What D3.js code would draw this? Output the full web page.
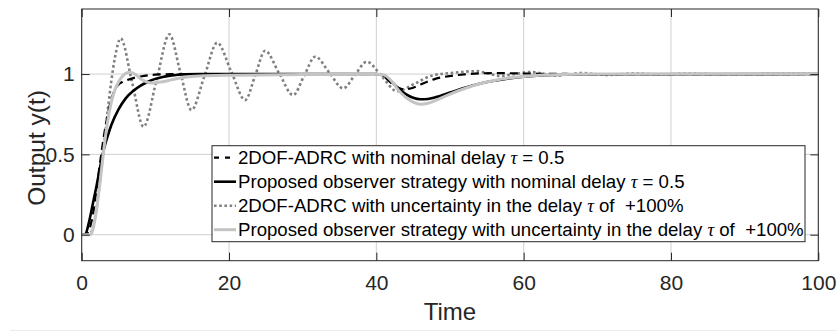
<!DOCTYPE html>
<html><head><meta charset="utf-8">
<script src="https://cdn.jsdelivr.net/npm/d3@7"></script>
<style>
html,body{margin:0;padding:0;background:#fff;}
svg{display:block;font-family:"Liberation Sans",Arial,Helvetica,sans-serif;}
</style></head>
<body><svg id="c" width="837" height="331"></svg>
<script>
// ---- data ----
const xTicks = [0, 20, 40, 60, 80, 100];
const yTicks = [0, 0.5, 1];
const yTickLabels = ["0", "0.5", "1"];
const xLabel = "Time";
const yLabel = "Output y(t)";

// 2DOF-ADRC, nominal delay (black dashed)
const tAdrcNom = [0, 0.5, 1, 1.5, 2, 2.5, 3, 3.5, 4, 4.5, 5, 5.5, 6, 7, 8, 9, 10, 12, 14, 40, 41, 42, 43, 43.8, 45, 46, 48, 50, 52, 54, 56, 58, 62, 70, 100];
const yAdrcNom = [0, 0, 0.03, 0.12, 0.28, 0.45, 0.61, 0.74, 0.84, 0.9, 0.935, 0.95, 0.96, 0.975, 0.985, 0.992, 0.996, 0.999, 1, 1, 0.985, 0.945, 0.915, 0.905, 0.915, 0.935, 0.97, 0.988, 0.998, 1.004, 1.006, 1.005, 1.002, 1, 1];

// Proposed observer, nominal delay (black solid)
const tObsNom = [0, 0.5, 1, 1.5, 2, 2.5, 3, 3.5, 4, 5, 6, 7, 8, 9, 10, 11, 12, 13, 14, 16, 40, 41, 42, 43, 44, 45, 46, 47, 48, 50, 52, 54, 56, 58, 60, 64, 70, 100];
const yObsNom = [0, 0.005, 0.08, 0.19, 0.3, 0.42, 0.53, 0.61, 0.68, 0.78, 0.85, 0.895, 0.928, 0.952, 0.97, 0.982, 0.99, 0.996, 0.999, 1, 1, 0.99, 0.955, 0.91, 0.875, 0.852, 0.843, 0.845, 0.855, 0.885, 0.915, 0.94, 0.958, 0.972, 0.983, 0.994, 0.999, 1];

// 2DOF-ADRC, +100% delay uncertainty (gray dotted)
const tAdrcUnc = [0, 1, 1.5, 2, 2.5, 3, 3.5, 4, 4.5, 5.3, 6.85, 8.4, 10.15, 11.9, 13.4, 14.9, 16.65, 18.4, 20.3, 22.2, 23.55, 24.9, 26.8, 28.7, 30.2, 31.7, 33.6, 35.5, 37.1, 38.7, 40.75, 42.8, 45.2, 47.5, 50.5, 53.6, 55.2, 56.8, 58.8, 60.8, 62.7, 64.6, 66.2, 67.8, 69.6, 71.4, 73.2, 75, 78.6, 82, 86, 100];
const yAdrcUnc = [0, 0, 0.04, 0.16, 0.34, 0.55, 0.76, 0.95, 1.1, 1.222, 0.947, 0.672, 0.96, 1.247, 1.01, 0.776, 0.985, 1.195, 1.015, 0.838, 0.99, 1.145, 1.005, 0.869, 0.99, 1.108, 1.01, 0.911, 0.995, 1.077, 0.985, 0.893, 0.94, 0.99, 1.008, 1.018, 1.003, 0.988, 1.0, 1.013, 1.002, 0.991, 0.999, 1.007, 1.0, 0.994, 0.999, 1.004, 0.997, 1.002, 0.999, 1];

// Proposed observer, +100% delay uncertainty (light gray solid)
const tObsUnc = [0, 1.2, 1.5, 2, 2.5, 3, 3.5, 4, 4.5, 5, 5.5, 6, 6.5, 7, 7.5, 8, 8.5, 9, 9.5, 10, 11, 12, 13, 14, 16, 20, 30, 40, 41, 42, 43, 44, 45, 46, 47, 48, 50, 52, 54, 56, 58, 60, 64, 70, 100];
const yObsUnc = [0, 0, 0.03, 0.15, 0.33, 0.53, 0.7, 0.82, 0.9, 0.95, 0.985, 1.005, 1.012, 1.005, 0.99, 0.97, 0.957, 0.948, 0.945, 0.946, 0.952, 0.962, 0.972, 0.98, 0.988, 0.993, 0.997, 0.999, 0.995, 0.96, 0.9, 0.855, 0.825, 0.812, 0.818, 0.835, 0.875, 0.91, 0.94, 0.96, 0.975, 0.985, 0.995, 1, 1];

const legendLabels = [
  ["2DOF-ADRC with nominal delay ", "τ", " = 0.5"],
  ["Proposed observer strategy with nominal delay ", "τ", " = 0.5"],
  ["2DOF-ADRC with uncertainty in the delay ", "τ", " of  +100%"],
  ["Proposed observer strategy with uncertainty in the delay ", "τ", " of  +100%"]
];

// ---- layout ----
const L = 81.7, R = 818.3, T = 9, B = 260.7;
const x = d3.scaleLinear().domain([0, 100]).range([L, R]);
const y = d3.scaleLinear().domain([-0.162, 1.405]).range([B, T]);
const svg = d3.select("#c");
const axisCol = "#262626";

svg.append("line").attr("x1", 10).attr("x2", 837).attr("y1", 330.5).attr("y2", 330.5).attr("stroke", "#ececec");

// grid
const g = svg.append("g");
g.selectAll(".gx").data(xTicks).join("line")
  .attr("x1", d => x(d)).attr("x2", d => x(d)).attr("y1", T).attr("y2", B)
  .attr("stroke", "#d0d0d0").attr("stroke-width", 1);
g.selectAll(".gy").data(yTicks).join("line")
  .attr("x1", L).attr("x2", R).attr("y1", d => y(d)).attr("y2", d => y(d))
  .attr("stroke", "#d0d0d0").attr("stroke-width", 1);

// lines
svg.append("clipPath").attr("id", "clip").append("rect")
  .attr("x", L).attr("y", T).attr("width", R - L).attr("height", B - T);
const line = d3.line().x(d => x(d[0])).y(d => y(d[1])).curve(d3.curveMonotoneX);
const series = [
  {t: tAdrcUnc, v: yAdrcUnc, stroke: "#808080", w: 2.6, dash: "2.6,2.6"},
  {t: tObsNom, v: yObsNom, stroke: "#000", w: 2.6, dash: null},
  {t: tAdrcNom, v: yAdrcNom, stroke: "#000", w: 2.2, dash: "8,5"},
  {t: tObsUnc, v: yObsUnc, stroke: "#c4c4c4", w: 3, dash: null}
];
const lg = svg.append("g").attr("clip-path", "url(#clip)");
series.forEach(s => {
  lg.append("path").attr("d", line(s.t.map((t, i) => [t, s.v[i]])))
    .attr("fill", "none").attr("stroke", s.stroke).attr("stroke-width", s.w)
    .attr("stroke-dasharray", s.dash).attr("stroke-linejoin", "round");
});

// axes (MATLAB-like box with inward ticks)
const tl = 8;
const axB = d3.axisBottom(x).tickValues(xTicks).tickSizeInner(-tl).tickSizeOuter(0).tickPadding(14);
const axT = d3.axisTop(x).tickValues(xTicks).tickSizeInner(-tl).tickSizeOuter(0).tickFormat("");
const axL = d3.axisLeft(y).tickValues(yTicks).tickSizeInner(-tl).tickSizeOuter(0).tickPadding(7)
  .tickFormat((d, i) => yTickLabels[i]);
const axR = d3.axisRight(y).tickValues(yTicks).tickSizeInner(-tl).tickSizeOuter(0).tickFormat("");
function style(sel) {
  sel.select(".domain").remove();
  sel.selectAll("line").attr("stroke", axisCol).attr("stroke-width", 1);
  sel.selectAll("text").attr("fill", axisCol).attr("font-size", 21)
    .attr("font-family", "'Liberation Sans',Arial,sans-serif");
}
svg.append("g").attr("transform", `translate(0,${B})`).call(axB).call(style);
svg.append("g").attr("transform", `translate(0,${T})`).call(axT).call(style);
svg.append("g").attr("transform", `translate(${L},0)`).call(axL).call(style);
svg.append("g").attr("transform", `translate(${R},0)`).call(axR).call(style);
svg.append("rect").attr("x", L).attr("y", T).attr("width", R - L).attr("height", B - T)
  .attr("fill", "none").attr("stroke", axisCol).attr("stroke-width", 1);

// labels
svg.append("text").attr("x", (L + R) / 2).attr("y", 320).attr("text-anchor", "middle")
  .attr("font-size", 24).attr("fill", axisCol).text(xLabel);
svg.append("text").attr("transform", `translate(45,148) rotate(-90)`).attr("text-anchor", "middle")
  .attr("font-size", 24.5).attr("fill", axisCol).text(yLabel);

// legend
const lx = 212, ly = 145.7, lw = 593, lh = 96;
const leg = svg.append("g");
leg.append("rect").attr("x", lx).attr("y", ly).attr("width", lw).attr("height", lh)
  .attr("fill", "#fff").attr("stroke", axisCol).attr("stroke-width", 1);
const legStyles = [series[2], series[1], series[0], series[3]];
legendLabels.forEach((lab, i) => {
  const cy = ly + 12 + 24 * i;
  const s = legStyles[i];
  leg.append("line").attr("x1", lx + 2).attr("x2", lx + 24).attr("y1", cy).attr("y2", cy)
    .attr("stroke", s.stroke).attr("stroke-width", s.w)
    .attr("stroke-dasharray", i === 0 ? "5,6" : s.dash);
  const tx = leg.append("text").attr("x", lx + 26).attr("y", cy + 6.5)
    .attr("font-size", 18.65).attr("fill", "#000").style("white-space", "pre");
  tx.append("tspan").text(lab[0]);
  tx.append("tspan").attr("font-family", "'Liberation Serif','DejaVu Serif',serif").attr("font-style", "italic").text(lab[1]);
  tx.append("tspan").text(lab[2]);
});
</script></body></html>
